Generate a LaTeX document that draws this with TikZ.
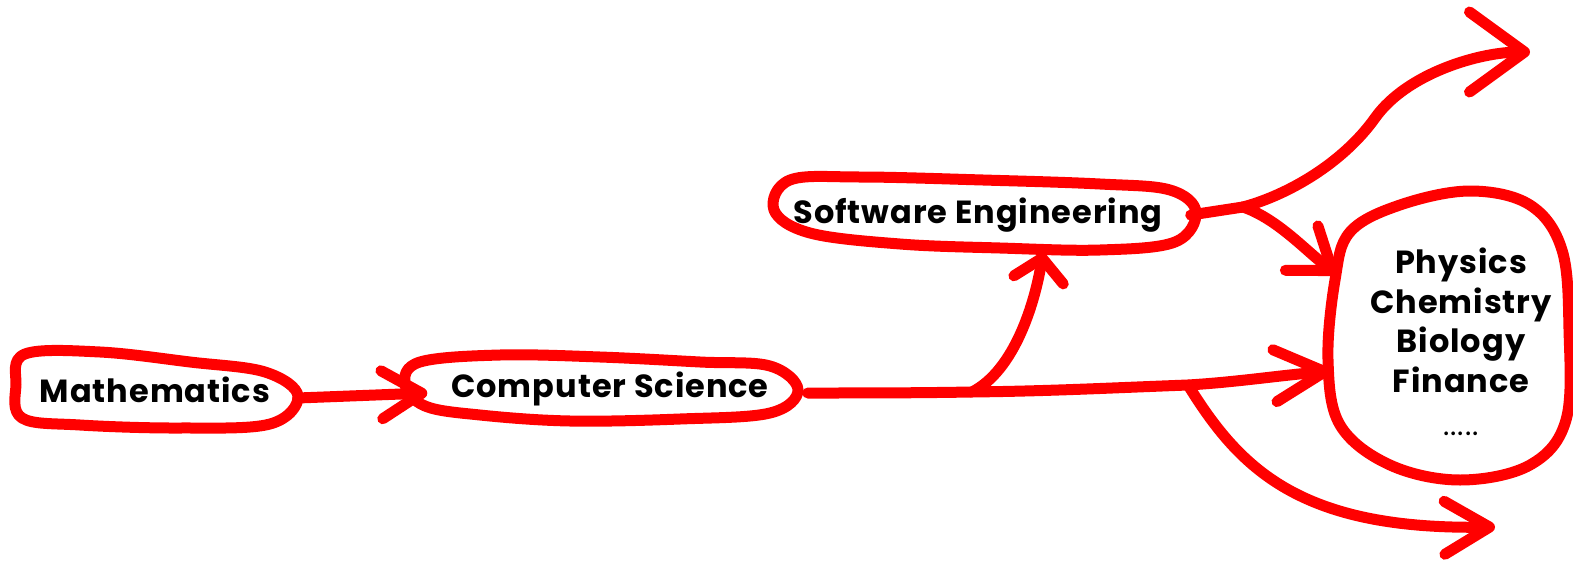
\documentclass[tikz,border=0pt]{standalone}
\usepackage{fontspec}
\setmainfont{Poppins}[LetterSpace=3]
\usetikzlibrary{arrows.meta,shapes.misc,shapes.geometric}
\definecolor{marker}{RGB}{255,0,0}
\begin{document}
\begin{tikzpicture}[x=1pt,y=-1pt,
  pen/.style={draw=marker, line width=11pt, line cap=round, line join=round},
  barb/.style args={#1/#2}{-{Straight Barb[length=#1pt,width=#2pt,round]}},
  topic/.style={font=\fontsize{32}{39.5}\selectfont\bfseries, text=black, inner sep=0pt},
]
\useasboundingbox (0,0) rectangle (1573,562);
\fill[white] (0,0) rectangle (1573,562);

% topic nodes (outlines are drawn freehand below)
\node[topic, rounded rectangle, minimum width=285pt, minimum height=78pt] (math) at (155,390) {Mathematics};
\node[topic, rounded rectangle, minimum width=395pt, minimum height=70pt] (cs) at (610,389) {Computer Science};
\node[topic, rounded rectangle, minimum width=425pt, minimum height=75pt] (se) at (978,215) {Software Engineering};
\node[ellipse, minimum width=244pt, minimum height=286pt, inner sep=0pt] (fields) at (1448,333) {};
\node[topic, align=center, anchor=north] (fieldslist) at (1461,248)
  {Physics\\Chemistry\\Biology\\Finance\\[4pt]{\fontsize{30}{30}\selectfont\mdseries .....}};

% freehand outlines
\draw[pen] plot[smooth cycle, tension=0.6] coordinates {
  (25,354) (100,352) (190,362) (265,372) (298,396) (270,424) (180,428) (80,425)
  (22,418) (16,385)};
\draw[pen] plot[smooth cycle, tension=0.6] coordinates {
  (420,362) (500,355) (600,357) (700,362) (770,366) (798,390) (770,413) (680,419)
  (570,421) (480,415) (425,406) (405,384)};
\draw[pen] plot[smooth cycle, tension=0.6] coordinates {
  (790,180) (860,177) (983,180) (1100,184) (1170,190) (1196,212) (1175,242)
  (1100,250) (1000,248) (900,244) (810,233) (774,210)};
\draw[pen] plot[smooth cycle, tension=0.6] coordinates {
  (1350,232) (1400,205) (1470,191) (1530,205) (1562,250) (1569,330) (1566,420)
  (1530,465) (1460,480) (1390,465) (1340,425) (1328,360) (1335,280)};

% junctions and free ends
\coordinate (j1) at (972,392);
\coordinate (j2) at (1188,385);
\coordinate (j3) at (1243,207);
\coordinate (bend) at (1375,118);
\coordinate (topend) at (1530,52);
\coordinate (botend) at (1495,527);

% connectors
\draw[pen, barb=40/48] ([yshift=-8pt]math.east) -- ([xshift=15pt,yshift=-4pt]cs.west);
\draw[pen, barb=50/52] ([yshift=-4pt]cs.east)
  .. controls +(60,0) and +(-60,1) .. (j1)
  .. controls +(80,-1) and +(-80,3) .. (j2)
  .. controls +(50,-3) and +(-50,4) .. (fields.198);
\draw[pen, barb=22/50] (j1) .. controls +(43,-22) and +(-8,49) .. ([xshift=65pt]se.south);
\draw[pen, barb=45/53] (j2) .. controls +(52,84) and +(-195,3) .. (botend);
\draw[pen] (se.east) -- (j3);
\draw[pen, barb=55/80] (j3) .. controls +(45,-12) and +(-32,45) .. (bend)
  .. controls +(32,-45) and +(-50,0) .. (topend);
\draw[pen, barb=38/55] (j3) .. controls +(35,12) and +(-30,-22) .. (fields.152);
\end{tikzpicture}
\end{document}
